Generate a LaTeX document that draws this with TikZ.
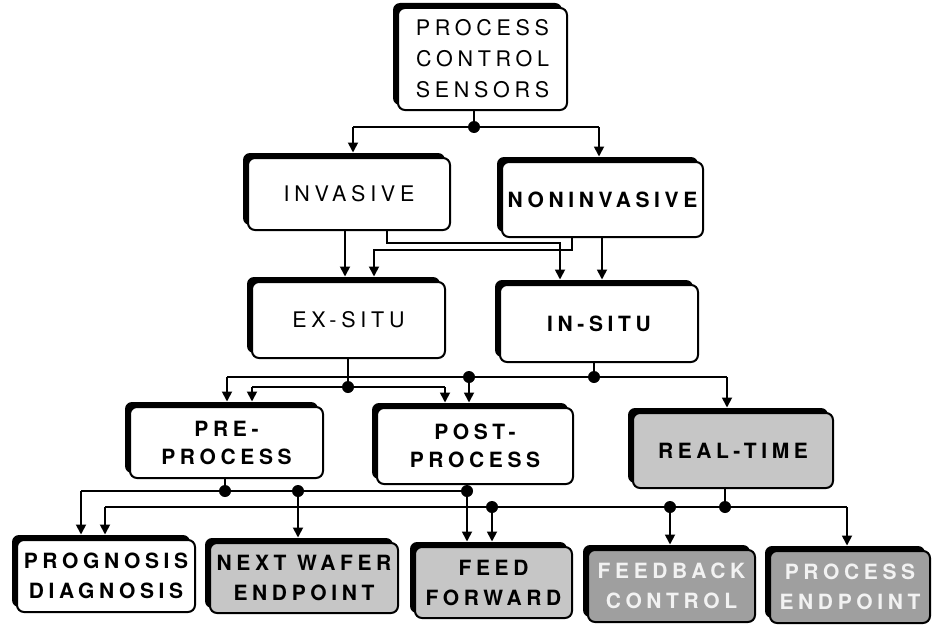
\documentclass[tikz,border=0pt]{standalone}
\usepackage{fontspec}
\setmainfont{TeX Gyre Heros}
\newfontfamily\spacedfont[LetterSpace=22]{TeX Gyre Heros}
\usetikzlibrary{arrows.meta,shadows}
\tikzset{
  ln/.style={line width=1.8pt},
  arr/.style={ln,-{Triangle[width=10pt,length=10pt]},shorten >=4.5pt},
  pcbox/.style={draw,line width=2pt,rounded corners=7pt,fill=white,
    general shadow={fill=black,shadow xshift=-5pt,shadow yshift=5pt},
    align=center,inner sep=0pt,
    font=\spacedfont\fontsize{21.5}{31}\selectfont},
  boldtxt/.style={font=\spacedfont\bfseries\fontsize{21}{30}\selectfont},
  graybox/.style={fill=gray!45},
  darkbox/.style={fill=gray!75,text=gray!10},
}
\begin{document}
\begin{tikzpicture}[x=1pt,y=-1pt]
\useasboundingbox (0,0) rectangle (933,626);
% boxes
\node[pcbox,minimum width=169pt,minimum height=102pt] (top) at (482.5,59) {PROCESS\\CONTROL\\SENSORS};
\node[pcbox,minimum width=202pt,minimum height=72pt] (inv) at (349,194) {INVASIVE};
\node[pcbox,boldtxt,minimum width=201pt,minimum height=75pt] (non) at (602.5,199.5) {NONINVASIVE};
\node[pcbox,minimum width=193pt,minimum height=76pt] (exs) at (348.5,320) {EX-SITU};
\node[pcbox,boldtxt,minimum width=198pt,minimum height=77pt] (ins) at (599,323.5) {IN-SITU};
\node[pcbox,boldtxt,minimum width=193pt,minimum height=71pt,font=\spacedfont\bfseries\fontsize{21}{28}\selectfont] (pre) at (226.5,442.5) {PRE-\\PROCESS};
\node[pcbox,boldtxt,minimum width=196pt,minimum height=76pt,font=\spacedfont\bfseries\fontsize{21}{28}\selectfont] (post) at (475,446) {POST-\\PROCESS};
\node[pcbox,boldtxt,graybox,minimum width=200pt,minimum height=75pt] (rt) at (733,450.5) {REAL-TIME};
\node[pcbox,boldtxt,minimum width=178pt,minimum height=72pt] (prog) at (106,576) {PROGNOSIS\\DIAGNOSIS};
\node[pcbox,boldtxt,graybox,minimum width=188pt,minimum height=70pt] (nw) at (304,578) {NEXT WAFER\\ENDPOINT};
\node[pcbox,boldtxt,graybox,minimum width=157pt,minimum height=71pt] (ff) at (493.5,582.5) {FEED\\FORWARD};
\node[pcbox,boldtxt,darkbox,minimum width=167pt,minimum height=72pt] (fb) at (671.5,586) {FEEDBACK\\CONTROL};
\node[pcbox,boldtxt,darkbox,minimum width=160pt,minimum height=72pt] (pe) at (850,587) {PROCESS\\ENDPOINT};
% level 1
\coordinate (d0) at (474,127);
\coordinate (c0a) at (353,127);
\coordinate (c0b) at (599,127);
\draw[ln] (top.south -| d0) -- (d0);
\draw[ln] (c0a) -- (c0b);
\draw[arr] (c0a) -- (c0a |- inv.north);
\draw[arr] (c0b) -- (c0b |- non.north);
% level 2
\coordinate (b1) at (345,230);
\coordinate (b2) at (387,243);
\coordinate (b3) at (560,243);
\coordinate (b4) at (572,250);
\coordinate (b5) at (374,250);
\coordinate (b6) at (602,250);
\draw[arr] (inv.south -| b1) -- (b1 |- exs.north);
\draw[arr] (inv.south -| b2) -- (b2) -- (b3) -- (b3 |- ins.north);
\draw[arr] (non.south -| b4) -- (b4) -- (b5) -- (b5 |- exs.north);
\draw[arr] (non.south -| b6) -- (b6 |- ins.north);
% level 3
\coordinate (d1) at (348,387);
\coordinate (e1) at (252,387);
\coordinate (e2) at (445,387);
\draw[ln] (exs.south -| d1) -- (d1);
\draw[ln] (e1) -- (e2);
\draw[arr] (e1) -- (e1 |- pre.north);
\draw[arr] (e2) -- (e2 |- post.north);
\coordinate (d2) at (594,377);
\coordinate (d3) at (469,377);
\coordinate (f1) at (227,377);
\coordinate (f2) at (727,377);
\draw[ln] (ins.south -| d2) -- (d2);
\draw[ln] (f1) -- (f2);
\draw[arr] (f1) -- (f1 |- pre.north);
\draw[arr] (d3) -- (d3 |- post.north);
\draw[arr] (f2) -- (f2 |- rt.north);
% level 4
\coordinate (d4) at (225,491);
\coordinate (d5) at (298,491);
\coordinate (d6) at (467,491);
\coordinate (g1) at (81,491);
\draw[ln] (pre.south -| d4) -- (d4);
\draw[ln] (post.south -| d6) -- (d6);
\draw[ln] (g1) -- (d6);
\draw[arr] (g1) -- (g1 |- prog.north);
\draw[arr] (d5) -- (d5 |- nw.north);
\draw[arr] (d6) -- (d6 |- ff.north);
\coordinate (d7) at (725,507);
\coordinate (d8) at (492,507);
\coordinate (d9) at (670,507);
\coordinate (h1) at (105,507);
\coordinate (h2) at (847,507);
\draw[ln] (rt.south -| d7) -- (d7);
\draw[ln] (h1) -- (h2);
\draw[arr] (h1) -- (h1 |- prog.north);
\draw[arr] (d8) -- (d8 |- ff.north);
\draw[arr] (d9) -- (d9 |- fb.north);
\draw[arr] (h2) -- (h2 |- pe.north);
% junction dots
\foreach \p in {d0,d1,d2,d3,d4,d5,d6,d7,d8,d9}
  \fill (\p) circle (6pt);
\end{tikzpicture}
\end{document}
